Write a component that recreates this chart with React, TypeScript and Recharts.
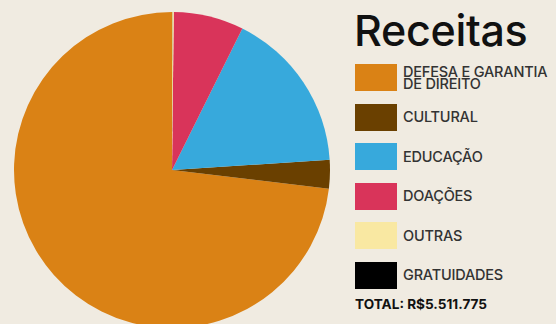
import React from "react";
import { PieChart, Pie, Cell } from "recharts";

document.body.style.margin = "0";

const categories = [
  "DEFESA E GARANTIA\nDE DIREITO",
  "CULTURAL",
  "EDUCAÇÃO",
  "DOAÇÕES",
  "OUTRAS",
  "GRATUIDADES",
];
const values = [4030000, 161000, 916000, 395000, 9000, 775];
const colors = ["#DA8215", "#6A4000", "#37A9DC", "#D9345A", "#F9E8A2", "#000000"];
const totalLabel = "TOTAL: R$5.511.775";

const data = categories.map((name, i) => ({ name, value: values[i] }));

const font = "Inter, 'Noto Sans', sans-serif";

export default function App() {
  return (
    <div
      style={{
        position: "relative",
        width: 556,
        height: 324,
        overflow: "hidden",
        background: "#F0EBE1",
        fontFamily: font,
      }}
    >
      <PieChart
        width={345}
        height={324}
        margin={{ top: 0, right: 0, bottom: 0, left: 0 }}
        style={{ position: "absolute", left: 0, top: 0 }}
      >
        <Pie
          data={data}
          dataKey="value"
          nameKey="name"
          cx={172}
          cy={170}
          outerRadius={158}
          startAngle={90}
          endAngle={450}
          stroke="none"
          isAnimationActive={false}
        >
          {data.map((d, i) => (
            <Cell key={d.name} fill={colors[i]} />
          ))}
        </Pie>
      </PieChart>

      <div
        style={{
          position: "absolute",
          left: 354,
          top: 7,
          fontSize: 43,
          fontWeight: 500,
          color: "#111",
          letterSpacing: -0.3,
          lineHeight: "46px",
        }}
      >
        Receitas
      </div>

      {categories.map((name, i) => (
        <div
          key={name}
          style={{
            position: "absolute",
            left: 355,
            top: 64 + i * 39.5,
            height: 27,
            display: "flex",
            alignItems: "center",
          }}
        >
          <span
            style={{
              width: 42,
              height: 27,
              background: colors[i],
              display: "block",
              flexShrink: 0,
            }}
          />
          <span
            style={{
              marginLeft: 6,
              fontSize: 14.5,
              fontWeight: 500,
              color: "#333",
              lineHeight: "12px",
              whiteSpace: "pre-line",
              letterSpacing: -0.2,
            }}
          >
            {name}
          </span>
        </div>
      ))}

      <div
        style={{
          position: "absolute",
          left: 355,
          top: 296,
          fontSize: 13.6,
          fontWeight: 700,
          color: "#111",
        }}
      >
        {totalLabel}
      </div>
    </div>
  );
}
